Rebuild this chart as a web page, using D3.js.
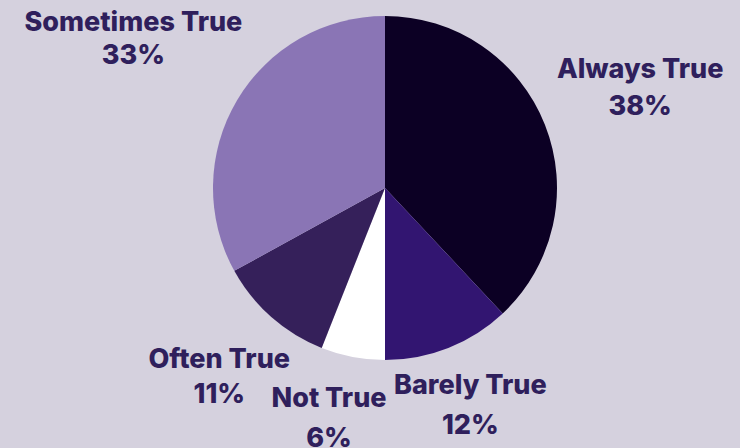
<!DOCTYPE html>
<html>
<head>
<meta charset="utf-8">
<script src="https://cdn.jsdelivr.net/npm/d3@7"></script>
<style>
  html, body { margin: 0; padding: 0; background: #d5d1de; }
  svg { display: block; }
  .label { font-family: Inter, "Open Sans", sans-serif; font-weight: 800; fill: #2f1f5c; }
</style>
</head>
<body>
<svg></svg>
<script>
// data, clockwise from 12 o'clock
const categories = ["Always True", "Barely True", "Not True", "Often True", "Sometimes True"];
const percents = [38, 12, 6, 11, 33];
const sliceColors = ["#0c0024", "#321571", "#ffffff", "#35205a", "#8a75b5"];

// small nudges so labels sit where the original put them
const labelNudge = [[32, -3], [-3, 3], [-11, 3], [-7, 17], [-45, -18]];
const lineGap = [37, 40, 40, 35, 33];

let width = 740;
let height = 448;
let cx = 385;
let cy = 188;
let radius = 172;

let svg = d3.select("svg").attr("width", width).attr("height", height);

let data = categories.map((c, i) => ({ name: c, value: percents[i], color: sliceColors[i], idx: i }));

let pie = d3.pie().sort(null).value((d) => d.value);
let arc = d3.arc().innerRadius(0).outerRadius(radius);
let labelArc = d3.arc().innerRadius(240).outerRadius(240);

let g = svg.append("g").attr("transform", "translate(" + cx + "," + cy + ")");

let arcs = pie(data);

g.selectAll("path")
  .data(arcs)
  .enter()
  .append("path")
  .attr("d", arc)
  .attr("fill", (d) => d.data.color);

let labels = g.selectAll("text.label")
  .data(arcs)
  .enter()
  .append("text")
  .attr("class", "label")
  .attr("text-anchor", "middle")
  .style("font-size", "27px")
  .attr("transform", (d) => {
    let c = labelArc.centroid(d);
    let n = labelNudge[d.data.idx];
    return "translate(" + (c[0] + n[0]) + "," + (c[1] + n[1]) + ")";
  });

labels.append("tspan")
  .attr("x", 0)
  .attr("y", (d) => -lineGap[d.data.idx] / 2)
  .text((d) => d.data.name);

labels.append("tspan")
  .attr("x", 0)
  .attr("y", (d) => lineGap[d.data.idx] / 2)
  .text((d) => d.data.value + "%");
</script>
</body>
</html>
